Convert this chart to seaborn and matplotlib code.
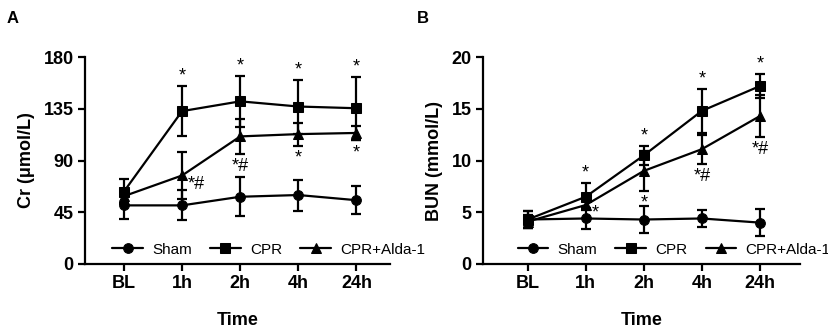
import numpy as np
import pandas as pd
import seaborn as sns
import matplotlib.pyplot as plt

# Time points and groups
times = ["BL", "1h", "2h", "4h", "24h"]
groups = ["Sham", "CPR", "CPR+Alda-1"]

# Panel A: Cr (umol/L), mean and SD
cr_sham = [51, 51, 58.5, 60, 55.5]
cr_sham_sd = [12, 13, 17, 13.5, 12]
cr_cpr = [63, 133, 141.5, 137, 135.5]
cr_cpr_sd = [11, 22, 22, 23.5, 27.5]
cr_alda = [59, 77, 111, 113, 114]
cr_alda_sd = [6, 20.5, 15, 10, 6]

# Panel B: BUN (mmol/L), mean and SD
bun_sham = [4.3, 4.4, 4.3, 4.4, 4.0]
bun_sham_sd = [0.8, 1.0, 1.3, 0.8, 1.3]
bun_cpr = [4.3, 6.5, 10.5, 14.8, 17.2]
bun_cpr_sd = [0.8, 1.3, 0.9, 2.1, 1.2]
bun_alda = [4.1, 5.7, 9.0, 11.1, 14.3]
bun_alda_sd = [0.6, 0.4, 1.9, 1.4, 2.0]

# significance marks: (time index, label, anchor value, side)
cr_marks = [(1, "*", 155, "above"), (2, "*", 163.5, "above"), (3, "*", 160.5, "above"),
            (4, "*", 163, "above"), (1, "*#", 73, "right"), (2, "*#", 96, "below"),
            (3, "*", 103, "below"), (4, "*", 108, "below")]
bun_marks = [(1, "*", 7.8, "above"), (2, "*", 11.4, "above"), (3, "*", 16.9, "above"),
             (4, "*", 18.4, "above"), (1, "*", 5.3, "right"), (2, "*", 7.1, "below"),
             (3, "*#", 9.7, "below"), (4, "*#", 12.3, "below")]

sns.set_style("ticks")
plt.rcParams['font.family'] = ['Liberation Sans', 'DejaVu Sans']
for key in ["text.color", "axes.labelcolor", "xtick.color", "ytick.color", "axes.edgecolor"]:
    plt.rcParams[key] = "black"

fig = plt.figure(figsize=(8.29, 3.30), dpi=100)
axA = fig.add_axes([0.1025, 0.2, 0.3675, 0.627])
axB = fig.add_axes([0.5826, 0.2, 0.3824, 0.627])

markers = {"Sham": "o", "CPR": "s", "CPR+Alda-1": "^"}


def make_df(sham, cpr, alda):
    rows = []
    for g, vals in zip(groups, [sham, cpr, alda]):
        for i, v in enumerate(vals):
            rows.append({"x": i, "value": v, "group": g})
    return pd.DataFrame(rows)


def draw(ax, sham, sham_sd, cpr, cpr_sd, alda, alda_sd, marks, ymax, step, ylabel, xlim, legx):
    df = make_df(sham, cpr, alda)
    sds = {"Sham": sham_sd, "CPR": cpr_sd, "CPR+Alda-1": alda_sd}
    for g in groups:
        d = df[df.group == g]
        ax.errorbar(d["x"], d["value"], yerr=sds[g], fmt="none", ecolor="black",
                    elinewidth=1.6, capsize=3.5, capthick=1.6, zorder=2)
    sns.lineplot(data=df, x="x", y="value", style="group", markers=markers, dashes=False,
                 color="black", linewidth=1.6, markersize=7, markeredgecolor="black",
                 ax=ax, zorder=3)
    for i, lab, v, side in marks:
        if side == "above":
            ax.annotate(lab, (i, v), xytext=(0, 1), textcoords="offset points",
                        ha="center", va="bottom", fontsize=13)
        elif side == "below":
            ax.annotate(lab, (i, v), xytext=(0, -3), textcoords="offset points",
                        ha="center", va="top", fontsize=13)
        else:
            ax.annotate(lab, (i, v), xytext=(4, -3), textcoords="offset points",
                        ha="left", va="center", fontsize=13)
    ax.set_xlim(*xlim)
    ax.set_ylim(0, ymax)
    ax.set_yticks(np.arange(0, ymax + 0.01, step))
    ax.set_xticks(range(len(times)))
    ax.set_xticklabels(times)
    ax.set_xlabel("Time", fontsize=13, fontweight="bold", labelpad=14)
    ax.set_ylabel(ylabel, fontsize=13, fontweight="bold", labelpad=6)
    for lab in ax.get_xticklabels() + ax.get_yticklabels():
        lab.set_fontweight("bold")
        lab.set_fontsize(13)
    ax.tick_params(width=1.6, length=5, direction="out", pad=3)
    for s in ["left", "bottom"]:
        ax.spines[s].set_linewidth(1.6)
    sns.despine(ax=ax)
    h, l = ax.get_legend_handles_labels()
    ax.legend(h, l, loc="center left", bbox_to_anchor=(legx, 0.07), ncol=3, frameon=False,
              fontsize=11, handlelength=2.0, columnspacing=1.2, handletextpad=0.6,
              borderaxespad=0)


draw(axA, cr_sham, cr_sham_sd, cr_cpr, cr_cpr_sd, cr_alda, cr_alda_sd, cr_marks,
     180, 45, "Cr (μmol/L)", (-0.67, 4.57), 0.07)
draw(axB, bun_sham, bun_sham_sd, bun_cpr, bun_cpr_sd, bun_alda, bun_alda_sd, bun_marks,
     20, 5, "BUN (mmol/L)", (-0.77, 4.69), 0.09)

fig.text(0.008, 0.945, "A", fontsize=12, fontweight="bold", va="center")
fig.text(0.503, 0.945, "B", fontsize=12, fontweight="bold", va="center")

fig.savefig("out.png", dpi=100)
